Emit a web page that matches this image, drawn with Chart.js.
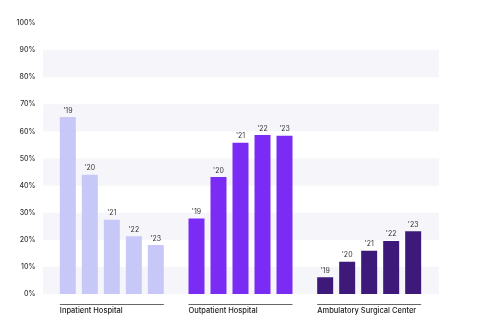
<!DOCTYPE html>
<html lang="en">
  <head>
    <meta charset="UTF-8" />
    <script src="https://cdn.jsdelivr.net/npm/chart.js"></script>
    <title>Site of care share</title>
    <style>
      html, body { margin: 0; padding: 0; background: #fff; }
      #wrap { width: 480px; height: 324px; }
    </style>
  </head>
  <body>
    <div id="wrap"><canvas id="myChart"></canvas></div>
    <script>
      // data
      const categories = ["Inpatient Hospital", "Outpatient Hospital", "Ambulatory Surgical Center"];
      const years = ["'19", "'20", "'21", "'22", "'23"];
      const inpatient = [65.3, 44.0, 27.4, 21.3, 18.1];
      const outpatient = [27.9, 43.2, 55.8, 58.7, 58.4];
      const asc = [6.2, 11.9, 16.0, 19.6, 23.2];
      const yTicks = [0, 10, 20, 30, 40, 50, 60, 70, 80, 90, 100];

      const groupColors = ["#c8c8f8", "#7a2cf5", "#3d1a7a"];

      const datasets = years.map((yr, i) => ({
        label: yr,
        data: [inpatient[i], outpatient[i], asc[i]],
        backgroundColor: groupColors,
        barPercentage: 0.727,
        categoryPercentage: 0.855,
      }));

      // light horizontal bands behind the bars
      const bands = {
        id: "bands",
        beforeDatasetsDraw(chart) {
          const { ctx, chartArea, scales } = chart;
          ctx.save();
          ctx.fillStyle = "#f6f5fa";
          for (let v = 0; v < 100; v += 20) {
            const y1 = scales.y.getPixelForValue(v + 10);
            const y0 = scales.y.getPixelForValue(v);
            ctx.fillRect(chartArea.left - 4.5, y1, chartArea.right - chartArea.left + 10, y0 - y1);
          }
          ctx.restore();
        },
      };

      // year labels above bars + group labels underneath
      const labels = {
        id: "labels",
        afterDatasetsDraw(chart) {
          const { ctx } = chart;
          ctx.save();
          ctx.font = "7px Inter";
          ctx.fillStyle = "#333";
          ctx.textAlign = "center";
          ctx.textBaseline = "bottom";
          chart.data.datasets.forEach((ds, i) => {
            chart.getDatasetMeta(i).data.forEach((bar) => {
              ctx.fillText(ds.label, bar.x, bar.y - 3);
            });
          });
          const first = chart.getDatasetMeta(0).data;
          const last = chart.getDatasetMeta(chart.data.datasets.length - 1).data;
          const bottom = chart.chartArea.bottom;
          categories.forEach((cat, j) => {
            const left = first[j].x - first[j].width / 2;
            const right = last[j].x + last[j].width / 2;
            ctx.strokeStyle = "#666";
            ctx.lineWidth = 1;
            ctx.beginPath();
            ctx.moveTo(left, bottom + 10.5);
            ctx.lineTo(right, bottom + 10.5);
            ctx.stroke();
            ctx.font = "500 7.5px Inter";
            ctx.fillStyle = "#222";
            ctx.textAlign = "left";
            ctx.textBaseline = "middle";
            ctx.fillText(cat, left, bottom + 17);
          });
          ctx.restore();
        },
      };

      new Chart(document.getElementById("myChart"), {
        type: "bar",
        data: { labels: categories, datasets: datasets },
        options: {
          responsive: true,
          maintainAspectRatio: false,
          animation: false,
          layout: { padding: { left: 0, right: 46.5, top: 23, bottom: 30 } },
          plugins: { legend: { display: false }, tooltip: { enabled: false } },
          scales: {
            x: { display: false },
            y: {
              min: 0,
              max: 100,
              afterFit(scale) { scale.width = 47.5; },
              afterBuildTicks(scale) { scale.ticks = yTicks.map((v) => ({ value: v })); },
              grid: { display: false, drawTicks: false },
              border: { display: false },
              ticks: {
                padding: 12,
                color: "#333",
                font: { family: "Inter", size: 7, weight: "500" },
                callback: (v) => v + "%",
              },
            },
          },
        },
        plugins: [bands, labels],
      });
    </script>
  </body>
</html>
